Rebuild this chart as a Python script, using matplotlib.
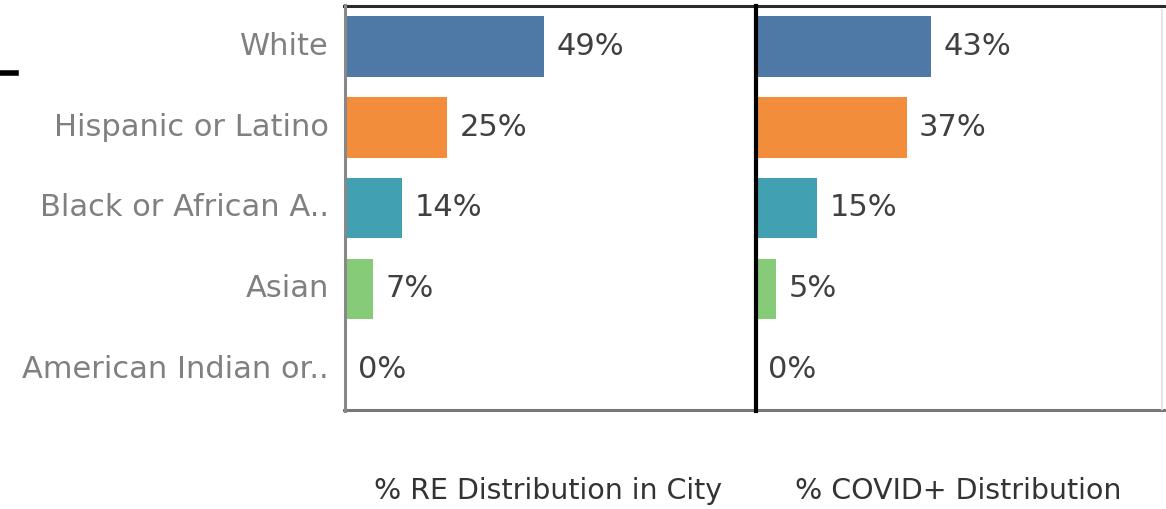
import matplotlib
matplotlib.use("Agg")
import matplotlib.pyplot as plt
from matplotlib.lines import Line2D

categories = ["White", "Hispanic or Latino", "Black or African A..", "Asian", "American Indian or.."]
city_pct = [49, 25, 14, 7, 0]
covid_pct = [43, 37, 15, 5, 0]
colors = ["#4e79a7", "#f28e3b", "#41a0b1", "#86cb78", "#bab0ac"]
titles = ["% RE Distribution in City", "% COVID+ Distribution"]

plt.rcParams['font.family'] = ['DejaVu Sans']

W, H = 1166, 509
fig = plt.figure(figsize=(W / 100, H / 100), dpi=100)

def box(x0, y0, x1, y1):
    return [x0 / W, 1 - y1 / H, (x1 - x0) / W, (y1 - y0) / H]

panels = [(345, 756, city_pct), (756, 1162, covid_pct)]
title_x = [548, 958]
ypos = list(range(len(categories)))
for i, (x0, x1, vals) in enumerate(panels):
    ax = fig.add_axes(box(x0, 6, x1, 410))
    ax.set_xlim(0, (x1 - x0) / 4.07)
    ax.set_ylim(len(categories) - 0.5, -0.5)
    ax.barh(ypos, vals, height=0.75, color=colors, left=0)
    for y, v in zip(ypos, vals):
        ax.annotate(f"{v}%", (v, y), xytext=(9, 0), textcoords="offset points",
                    va="center", ha="left", fontsize=22, color="#404040")
    ax.set_xticks([])
    ax.set_yticks([])
    for s in ax.spines.values():
        s.set_visible(False)
    fig.text(title_x[i] / W, 1 - 491 / H, titles[i], fontsize=20.5, color="#333333",
             ha="center", va="center")
    if i == 0:
        for y, c in zip(ypos, categories):
            ax.annotate(c, (0, y), xycoords=("axes fraction", "data"), xytext=(-11.5, 0),
                        textcoords="offset points", ha="right", va="center",
                        fontsize=22, color="#808080")

def hline(x0, x1, y, color, lw):
    fig.add_artist(Line2D([x0 / W, x1 / W], [1 - y / H, 1 - y / H], color=color, lw=lw))

def vline(x, y0, y1, color, lw):
    fig.add_artist(Line2D([x / W, x / W], [1 - y0 / H, 1 - y1 / H], color=color, lw=lw))

hline(344, 1166, 6, "#2a2a2a", 2.2)
hline(344, 1164, 409.5, "#777777", 2.2)
vline(345.5, 5, 411, "#888888", 2.2)
vline(755.5, 6, 411, "#000000", 3)
vline(1162, 10, 409, "#e6e6e6", 1.5)
hline(0, 16, 73, "#000000", 4)

fig.savefig("out.png", dpi=100)
